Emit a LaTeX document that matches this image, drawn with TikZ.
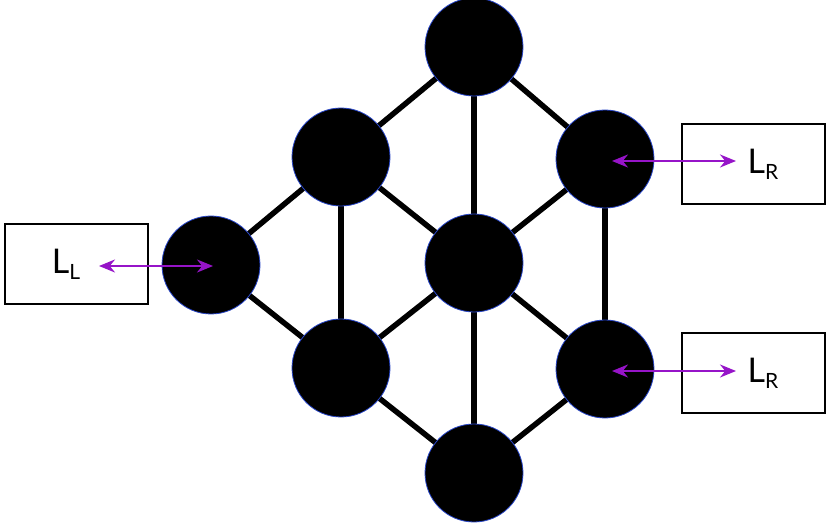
\documentclass[tikz,border=0pt]{standalone}
\usepackage{fontspec}
\setmainfont{Lato}
\usetikzlibrary{backgrounds,arrows.meta}
\definecolor{arr}{RGB}{150,20,200}
\definecolor{rim}{RGB}{40,70,200}
\begin{document}
\begin{tikzpicture}[x=1pt,y=-1pt,
  ball/.style={circle,fill=black,draw=rim,line width=0.8pt,minimum size=98pt,inner sep=0pt},
  edge/.style={line width=5.5pt},
  lbox/.style={draw,line width=1.5pt,minimum width=143pt,minimum height=80pt,inner sep=0pt},
  harrow/.style={arr,line width=2.2pt,{Stealth[length=16pt,width=13pt]}-{Stealth[length=16pt,width=13pt]}},
  lab/.style={font=\fontsize{34}{34}\selectfont}]
\useasboundingbox (0,0) rectangle (830,529);
\node[ball] (t) at (474,47) {};
\node[ball] (ul) at (341,157) {};
\node[ball] (ur) at (605,159) {};
\node[ball] (l) at (211,265) {};
\node[ball] (c) at (474,263) {};
\node[ball] (ll) at (341,368) {};
\node[ball] (lr) at (605,369) {};
\node[ball] (b) at (474,473) {};
\begin{scope}[on background layer]
\foreach \a/\b in {t/ul,t/c,t/ur,ul/l,ul/c,ul/ll,ur/c,ur/lr,l/ll,c/ll,c/lr,c/b,ll/b,lr/b}
  \draw[edge] (\a.center) -- (\b.center);
\end{scope}
\node[lbox] (bl) at (76.5,264) {};
\node[lbox] (br1) at (753.5,164) {};
\node[lbox] (br2) at (753.5,373) {};
\node[lab] (tl) at (66,264) {L\raisebox{-0.35ex}{\fontsize{21}{21}\selectfont L}};
\node[lab] (tr1) at (763,164) {L\raisebox{-0.35ex}{\fontsize{21}{21}\selectfont R}};
\node[lab] (tr2) at (763,373) {L\raisebox{-0.35ex}{\fontsize{21}{21}\selectfont R}};
\coordinate (al) at (99,266);
\coordinate (ar1) at (736,161);
\coordinate (ar2) at (736,371);
\coordinate (u1) at (612,161);
\coordinate (u2) at (612,371);
\coordinate (u0) at (213,266);
\draw[harrow] (al) -- (u0);
\draw[harrow] (u1) -- (ar1);
\draw[harrow] (u2) -- (ar2);
\end{tikzpicture}
\end{document}
